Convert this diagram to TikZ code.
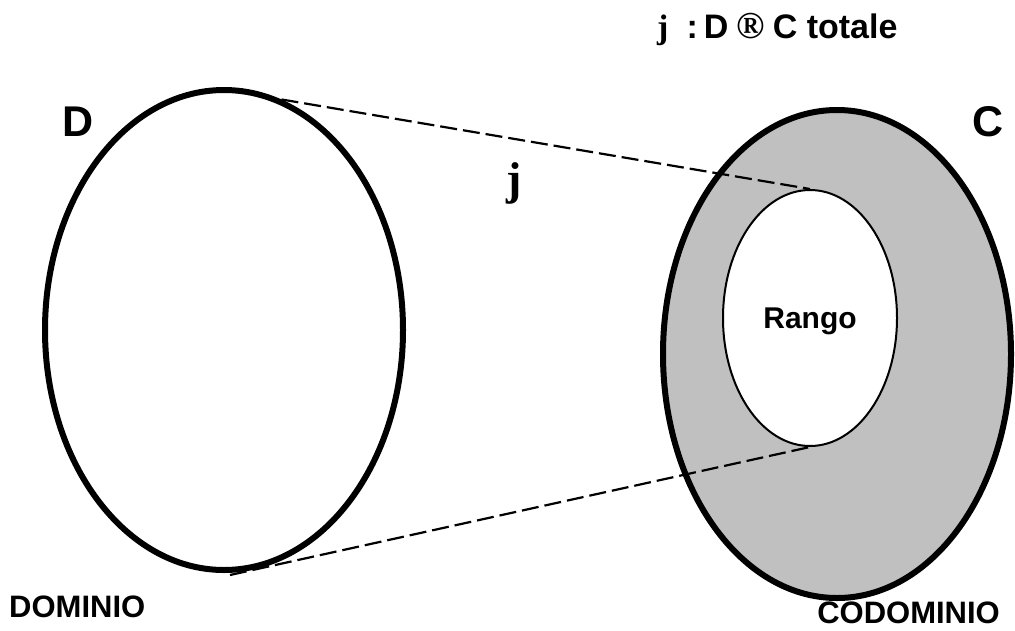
\documentclass[tikz,border=0pt]{standalone}
\usepackage{fontspec}
\setmainfont{Liberation Sans}
\newfontfamily\serifj{Liberation Serif}
\usetikzlibrary{shapes.geometric}
\definecolor{setgray}{HTML}{C0C0C0}
\tikzset{
  setbox/.style={ellipse, draw=black, line width=6pt, inner sep=0pt},
  rangebox/.style={ellipse, draw=black, fill=white, line width=2pt, inner sep=0pt},
  maplink/.style={draw=black, line width=2.2pt, dash pattern=on 17pt off 6pt},
  lbl/.style={font=\fontsize{31}{36}\selectfont\bfseries, inner sep=0pt},
  biglbl/.style={font=\fontsize{43}{48}\selectfont\bfseries, inner sep=0pt},
}
\begin{document}
\begin{tikzpicture}[x=1pt,y=-1pt]
\useasboundingbox (0,0) rectangle (1015,630);
% sets
\node[setbox, minimum width=358pt, minimum height=480pt] (Dset) at (224,330) {};
\node[setbox, fill=setgray, minimum width=348pt, minimum height=488pt] (Cset) at (837,354) {};
\node[rangebox, minimum width=174pt, minimum height=256pt] (Rset) at (810,318) {};
\node[lbl, font=\fontsize{30}{36}\selectfont\bfseries] (rango) at ([yshift=-3pt]Rset.center) {Rango};
% map lines
\coordinate (lowstart) at (230,575);
\draw[maplink] (Dset.76) -- (Rset.north);
\draw[maplink] (lowstart) -- (Rset.south);
% labels
\node[biglbl] (labD) at (78,122) {D};
\node[biglbl] (labC) at (988,122) {C};
\node[inner sep=0pt, font=\fontsize{46}{52}\selectfont\serifj\bfseries] (labj) at (514,183) {j};
\node[lbl, anchor=west] (dom) at (9,607) {DOMINIO};
\node[lbl, anchor=east] (codom) at (1000,613) {CODOMINIO};
\node[inner sep=0pt, anchor=base west, font=\fontsize{34}{38}\selectfont\bfseries] (title) at (657,38) {{\serifj\bfseries j}\hspace{18pt}:\hspace{6pt}D\hspace{8pt}{\fontsize{38}{40}\selectfont\serifj ®}\hspace{8pt}C totale};
\end{tikzpicture}
\end{document}
